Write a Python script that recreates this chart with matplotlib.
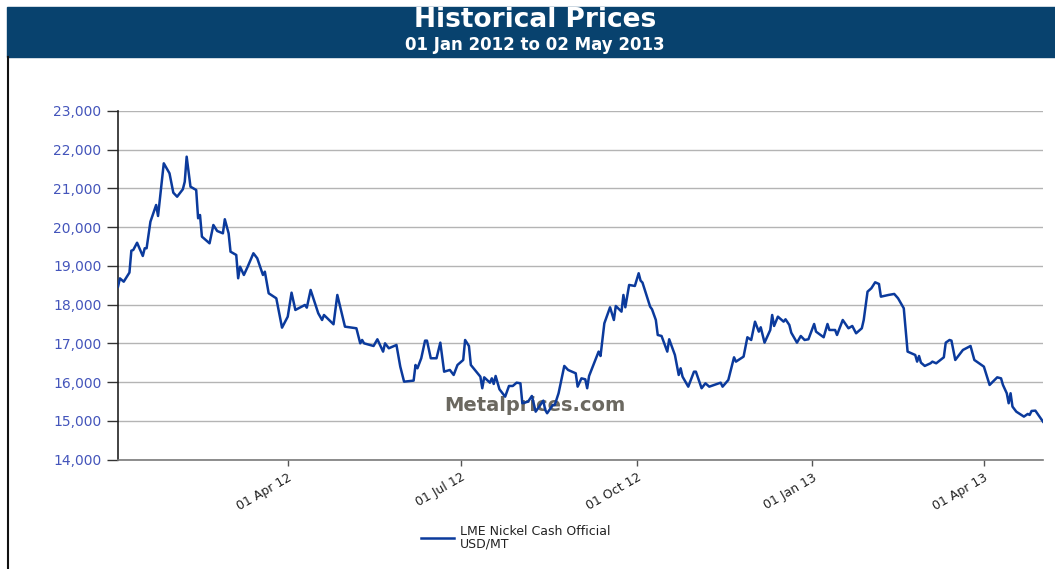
import numpy as np
import pandas as pd
import matplotlib
matplotlib.use("Agg")
import matplotlib.pyplot as plt
from matplotlib.patches import Rectangle
from matplotlib.lines import Line2D

# days after 2012-01-01 and LME nickel cash price (USD/MT)
days = [2, 3, 5, 8, 9, 10, 12, 15, 16, 17, 19, 22, 23, 26, 29, 31, 33, 36, 37, 38,
        40, 43, 44, 45, 46, 50, 52, 54, 57, 58, 60, 61, 64, 65, 66, 68, 70, 73, 75, 78,
        79, 81, 85, 88, 91, 93, 95, 100, 101, 103, 107, 109, 110, 115, 117, 121, 127, 129, 130, 131,
        136, 138, 141, 142, 144, 148, 150, 152, 157, 158, 159, 161, 163, 164, 166, 169, 171, 173, 176, 178,
        180, 183, 184, 186, 187, 192, 193, 194, 197, 198, 199, 200, 202, 205, 207, 209, 211, 213, 214, 217,
        219, 221, 225, 226, 227, 230, 231, 233, 236, 238, 242, 243, 245, 247, 248, 249, 254, 255, 257, 260,
        262, 263, 266, 267, 268, 270, 273, 275, 276, 277, 281, 282, 284, 285, 287, 290, 291, 294, 296, 297,
        298, 301, 304, 305, 308, 310, 312, 318, 319, 322, 325, 326, 330, 332, 334, 336, 338, 339, 341, 344,
        345, 346, 348, 351, 352, 354, 355, 358, 360, 362, 364, 367, 368, 372, 374, 375, 378, 379, 382, 385,
        387, 389, 392, 393, 395, 397, 399, 401, 402, 406, 409, 411, 414, 416, 420, 421, 422, 423, 425, 428,
        429, 431, 435, 436, 438, 439, 441, 445, 449, 451, 456, 459, 463, 465, 466, 468, 469, 470, 471, 473,
        477, 479, 480, 481, 483, 487]
prices = [18466, 18680, 18595, 18830, 19395, 19413, 19600, 19258, 19457, 19457, 20143, 20574, 20290, 21650, 21392, 20892, 20788, 20980, 21175, 21821,
          21047, 20961, 20231, 20316, 19757, 19585, 20058, 19903, 19843, 20206, 19843, 19369, 19284, 18683, 18982, 18768, 18982, 19328, 19199, 18768,
          18853, 18295, 18166, 17408, 17692, 18311, 17865, 17994, 17924, 18381, 17779, 17606, 17735, 17495, 18252, 17434, 17392, 17004, 17090, 17004,
          16935, 17108, 16789, 17004, 16876, 16961, 16402, 16014, 16041, 16445, 16359, 16618, 17073, 17073, 16618, 16618, 17021, 16272, 16316, 16187,
          16445, 16574, 17090, 16935, 16445, 16143, 15844, 16126, 15988, 16100, 15955, 16161, 15818, 15627, 15903, 15903, 15988, 15972, 15457, 15498,
          15645, 15240, 15524, 15284, 15199, 15413, 15413, 15715, 16420, 16316, 16230, 15885, 16100, 16075, 15844, 16161, 16790, 16677, 17520, 17934,
          17606, 17968, 17821, 18252, 17934, 18510, 18484, 18812, 18622, 18571, 17951, 17882, 17606, 17219, 17193, 16790, 17108, 16703, 16187, 16359,
          16143, 15885, 16272, 16272, 15844, 15972, 15885, 15988, 15885, 16058, 16643, 16531, 16660, 17160, 17090, 17563, 17305, 17418, 17021, 17348,
          17735, 17452, 17692, 17563, 17624, 17477, 17279, 17021, 17193, 17090, 17108, 17503, 17305, 17160, 17503, 17348, 17348, 17219, 17606, 17392,
          17452, 17263, 17392, 17606, 18337, 18425, 18579, 18535, 18208, 18252, 18278, 18166, 17908, 16790, 16703, 16531, 16677, 16505, 16420, 16488,
          16531, 16488, 16643, 17021, 17090, 17073, 16574, 16832, 16935, 16574, 16402, 15929, 16126, 16100, 15929, 15715, 15457, 15715, 15370, 15240,
          15112, 15181, 15155, 15258, 15266, 14982]

tick_dates = ["2012-04-01", "2012-07-01", "2012-10-01", "2013-01-01", "2013-04-01"]
tick_labels = ["01 Apr 12", "01 Jul 12", "01 Oct 12", "01 Jan 13", "01 Apr 13"]
yticks = np.arange(14000, 23001, 1000)

start = pd.Timestamp("2012-01-01")
dates = start + pd.to_timedelta(days, unit="D")

W, H = 1055, 569
fig = plt.figure(figsize=(W / 100, H / 100), dpi=100)
fig.patch.set_facecolor("white")

# header band
fig.patches.append(Rectangle((7 / W, 1 - 57 / H), 1 - 7 / W, 50 / H,
                             transform=fig.transFigure, color="#08426e", zorder=0))
fig.add_artist(Line2D([7.5 / W, 7.5 / W], [0, 1 - 57 / H], color="#111111", lw=1.5))
fig.text(535 / W, 1 - 20 / H, "Historical Prices", color="white", fontsize=19,
         fontweight="bold", ha="center", va="center")
fig.text(535 / W, 1 - 45 / H, "01 Jan 2012 to 02 May 2013", color="white", fontsize=12,
         fontweight="bold", ha="center", va="center")

ax = fig.add_axes([118 / W, 1 - 459.7 / H, (1043 - 118) / W, (459.7 - 111) / H])
ax.plot(dates, prices, color="#0b3a9c", lw=1.8, zorder=3,
        label="LME Nickel Cash Official\nUSD/MT")

ax.set_xlim(dates[0], dates[-1])
ax.set_ylim(14000, 23000)
ax.set_yticks(yticks)
ax.set_yticklabels([f"{v:,}" for v in yticks])
ax.yaxis.grid(True, color="#b4b4b4", lw=1)
ax.set_axisbelow(True)

ax.set_xticks(pd.to_datetime(tick_dates))
ax.set_xticklabels(tick_labels, rotation=30, ha="right", va="top", rotation_mode="anchor")

for s in ["top", "right"]:
    ax.spines[s].set_visible(False)
ax.spines["left"].set_color("#222222")
ax.spines["left"].set_linewidth(1.2)
ax.spines["bottom"].set_color("#7a7a7a")
ax.spines["bottom"].set_linewidth(1.2)

ax.tick_params(axis="y", length=8, width=1, color="#333333", labelcolor="#4455bb",
               labelsize=10, pad=4)
ax.tick_params(axis="x", length=4, width=1, color="#555555", labelcolor="#222222",
               labelsize=9, pad=4)

ax.text(0.451, 0.155, "Metalprices.com", transform=ax.transAxes, ha="center", va="center",
        fontsize=14, fontweight="bold", color="#6b6860", zorder=2)

leg = ax.legend(loc="upper left", bbox_to_anchor=(421 / W, 1 - 525 / H), bbox_transform=fig.transFigure,
                frameon=False, fontsize=9, handlelength=2.6, handletextpad=0.5, borderpad=0,
                borderaxespad=0, labelcolor="#222222")
for t in leg.get_texts():
    t.set_linespacing(0.95)

fig.savefig("out.png", dpi=100)
plt.close(fig)
